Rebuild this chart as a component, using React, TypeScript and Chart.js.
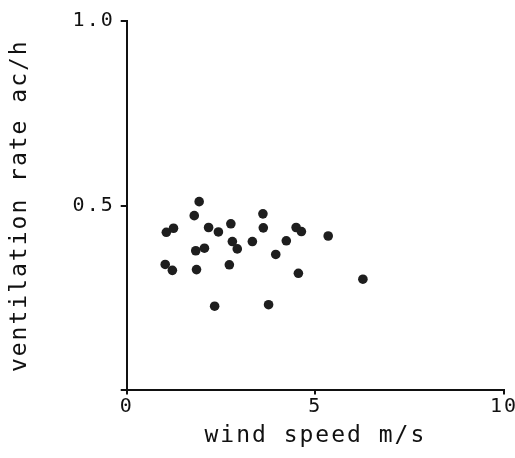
import { useEffect, useRef } from 'react';
import { Chart, registerables } from 'chart.js';

Chart.register(...registerables);

const windSpeed = [1.92, 1.79, 1.05, 1.24, 2.17, 2.43, 2.76, 2.80, 2.93, 1.83, 2.06, 1.02, 1.21, 1.85, 2.72, 2.33, 3.61, 3.62, 4.49, 4.63, 5.34, 3.33, 4.23, 3.95, 4.55, 6.26, 3.76];
const ventilationRate = [0.511, 0.473, 0.428, 0.439, 0.441, 0.429, 0.451, 0.403, 0.383, 0.378, 0.385, 0.341, 0.325, 0.327, 0.340, 0.228, 0.478, 0.440, 0.441, 0.430, 0.418, 0.403, 0.405, 0.368, 0.317, 0.301, 0.232];
const xTickValues = [0, 5, 10];
const yTickValues = [0, 0.5, 1.0];
const yTickLabels = ['', '0.5', '1.0'];

const spacingPlugin = {
  id: 'typeSpacing',
  beforeUpdate(chart: any) {
    chart.ctx.letterSpacing = '2px';
  },
  beforeDraw(chart: any) {
    chart.ctx.letterSpacing = '2px';
  },
};

export default function App() {
  const ref = useRef<HTMLCanvasElement>(null);
  useEffect(() => {
    const canvas = ref.current!;
    const data = windSpeed.map((x, i) => ({ x, y: ventilationRate[i] }));
    const font = 'DejaVu Sans Mono';
    const chart = new Chart(canvas, {
      type: 'scatter',
      data: {
        datasets: [
          {
            data,
            backgroundColor: '#1e1e1e',
            borderColor: '#1e1e1e',
            pointRadius: 4.8,
            pointHoverRadius: 4.8,
            borderWidth: 0,
          },
        ],
      },
      plugins: [spacingPlugin],
      options: {
        animation: false,
        responsive: false,
        maintainAspectRatio: false,
        layout: { padding: { top: 21, left: 6, right: 11, bottom: 8 } },
        plugins: { legend: { display: false }, tooltip: { enabled: false } },
        scales: {
          x: {
            type: 'linear',
            min: 0,
            max: 10,
            afterBuildTicks: (s: any) => {
              s.ticks = xTickValues.map((v) => ({ value: v }));
            },
            afterFit: (s: any) => {
              s.paddingRight = 0;
              s.paddingLeft = 0;
            },
            ticks: { color: '#111', font: { family: font, size: 20 }, padding: 0, callback: (v: any) => String(v) },
            grid: { display: true, drawOnChartArea: false, tickLength: 4, color: '#111', lineWidth: 2 },
            border: { display: true, color: '#111', width: 2 },
            title: { display: true, text: 'wind speed m/s', color: '#111', font: { family: font, size: 23 }, padding: { top: 4, bottom: 0 } },
          },
          y: {
            type: 'linear',
            min: 0,
            max: 1,
            afterBuildTicks: (s: any) => {
              s.ticks = yTickValues.map((v) => ({ value: v }));
            },
            afterFit: (s: any) => {
              s.paddingTop = 0;
              s.paddingBottom = 0;
            },
            ticks: {
              color: '#111',
              font: { family: font, size: 20 },
              padding: 6,
              callback: (v: any) => {
                const i = yTickValues.indexOf(Number(v));
                return i >= 0 ? yTickLabels[i] : '';
              },
            },
            grid: { display: true, drawOnChartArea: false, tickLength: 6, color: '#111', lineWidth: 2 },
            border: { display: true, color: '#111', width: 2 },
            title: { display: true, text: 'ventilation rate ac/h', color: '#111', font: { family: font, size: 23 }, padding: { top: 0, bottom: 33 } },
          },
        },
      },
    });
    return () => chart.destroy();
  }, []);
  return (
    <div style={{ position: 'fixed', left: 0, top: 0, width: 515, height: 458, background: '#fff' }}>
      <canvas ref={ref} width={515} height={458} style={{ width: 515, height: 458 }} />
    </div>
  );
}
